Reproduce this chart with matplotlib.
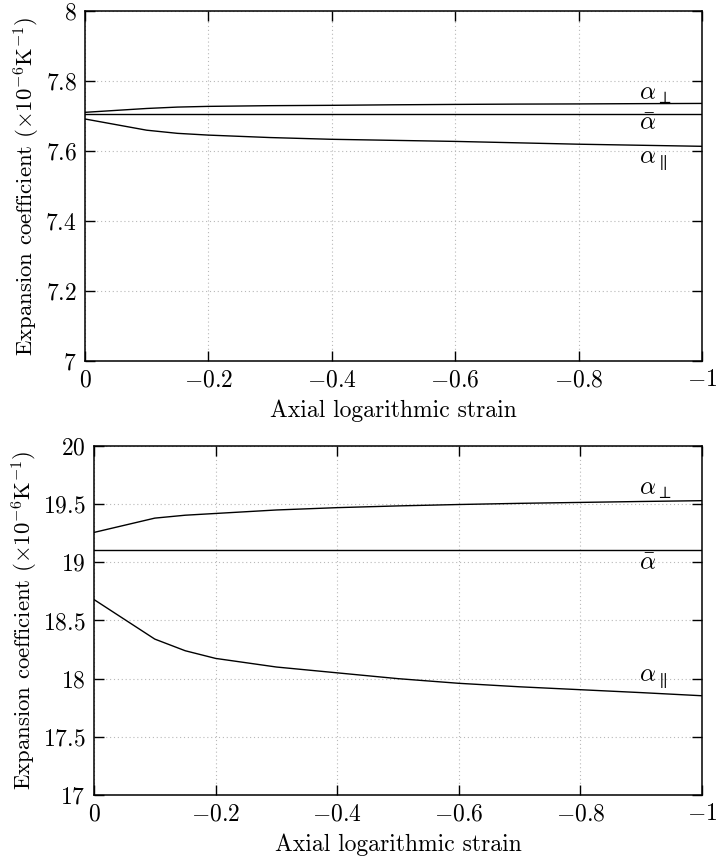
import matplotlib
matplotlib.use("Agg")
import matplotlib.pyplot as plt
from matplotlib.ticker import FuncFormatter

plt.rcParams["font.family"] = "serif"
plt.rcParams["font.serif"] = ["cmr10"]
plt.rcParams["mathtext.fontset"] = "cm"
plt.rcParams["axes.formatter.use_mathtext"] = True
plt.rcParams["font.size"] = 16

# axial logarithmic strain
strain = [0, -0.1, -0.15, -0.2, -0.3, -0.4, -0.5, -0.6, -0.7, -0.8, -0.9, -1.0]

# top panel
top_perp = [7.710, 7.721, 7.725, 7.727, 7.729, 7.730, 7.7315, 7.7326, 7.7335, 7.734, 7.7348, 7.7354]
top_mean = [7.705] * len(strain)
top_par = [7.691, 7.659, 7.650, 7.645, 7.638, 7.633, 7.630, 7.627, 7.623, 7.619, 7.616, 7.613]

# bottom panel
bot_perp = [19.257, 19.38, 19.405, 19.42, 19.45, 19.47, 19.485, 19.497, 19.507, 19.515, 19.523, 19.53]
bot_mean = [19.11] * len(strain)
bot_par = [18.68, 18.34, 18.24, 18.174, 18.10, 18.05, 18.00, 17.96, 17.93, 17.905, 17.88, 17.853]

xticks = [0, -0.2, -0.4, -0.6, -0.8, -1.0]
top_yticks = [7, 7.2, 7.4, 7.6, 7.8, 8]
bot_yticks = [17, 17.5, 18, 18.5, 19, 19.5, 20]


def fmt(v, pos):
    return "$%g$" % v


def style_axes(ax, ylim, yticks):
    ax.set_xlim(0, -1)
    ax.set_ylim(*ylim)
    ax.set_xticks(xticks)
    ax.set_yticks(yticks)
    ax.xaxis.set_major_formatter(FuncFormatter(fmt))
    ax.yaxis.set_major_formatter(FuncFormatter(fmt))
    ax.tick_params(direction="in", top=True, right=True, length=7, width=1, labelsize=17, pad=6)
    ax.grid(True, linestyle=(0, (1, 2.5)), color="#b8b8b8", linewidth=0.8)
    for sp in ax.spines.values():
        sp.set_linewidth(1.1)
    ax.set_xlabel("Axial logarithmic strain", fontsize=17, labelpad=6)
    ax.set_ylabel(r"Expansion coefficient $(\times10^{-6}\mathrm{K}^{-1})$", fontsize=16.4, labelpad=2)


fig = plt.figure(figsize=(7.17, 8.6), dpi=100)

ax1 = fig.add_axes([0.1185, 0.5802, 0.8605, 0.4073])
ax1.plot(strain, top_perp, color="black", lw=1)
ax1.plot(strain, top_mean, color="black", lw=1)
ax1.plot(strain, top_par, color="black", lw=1)
style_axes(ax1, (7, 8), top_yticks)
ax1.text(-0.898, 7.7606, r"$\alpha_\perp$", ha="left", va="center", fontsize=18)
ax1.text(-0.898, 7.678, r"$\bar{\alpha}$", ha="left", va="center", fontsize=18)
ax1.text(-0.898, 7.573, r"$\alpha_\parallel$", ha="left", va="center", fontsize=18)

ax2 = fig.add_axes([0.1311, 0.0756, 0.848, 0.4058])
ax2.plot(strain, bot_perp, color="black", lw=1)
ax2.plot(strain, bot_mean, color="black", lw=1)
ax2.plot(strain, bot_par, color="black", lw=1)
style_axes(ax2, (17, 20), bot_yticks)
ax2.text(-0.897, 19.62, r"$\alpha_\perp$", ha="left", va="center", fontsize=18)
ax2.text(-0.897, 18.99, r"$\bar{\alpha}$", ha="left", va="center", fontsize=18)
ax2.text(-0.897, 18.0, r"$\alpha_\parallel$", ha="left", va="center", fontsize=18)

fig.savefig("out.png", dpi=100)
